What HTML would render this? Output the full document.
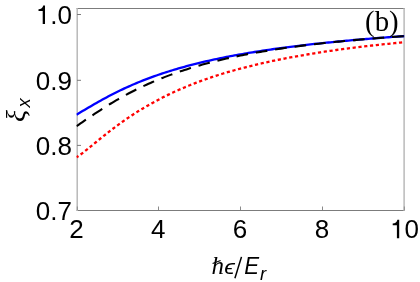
<!DOCTYPE html>
<html><head><meta charset="utf-8"><title>plot</title>
<style>
html,body{margin:0;padding:0;background:#fff;}
body{width:420px;height:282px;overflow:hidden;}
svg{display:block;filter:opacity(0.9999);}
text{font-family:"Liberation Sans",sans-serif;fill:#000;}
.tk{font-size:26px;}
.ser{font-family:"Liberation Serif",serif;}
</style></head><body>
<svg width="420" height="282" viewBox="0 0 420 282">
<rect width="420" height="282" fill="#fff"/>
<defs><path id="one" d="M9.15,-18.6 L7.35,-18.6 C7.0,-16.5 5.2,-14.9 2.65,-14.8 L2.65,-13.0 L6.85,-13.0 L6.85,0 L9.15,0 Z" fill="#000"/></defs>
<!-- frame -->
<g fill="none" stroke-width="1">
<path d="M76.6,8.5H404.8 M76.6,210.5H404.8" stroke="#7c7c7c"/>
<path d="M77.2,8V211" stroke="#b4b4b4" stroke-width="1.4"/>
<path d="M404.1,8V211" stroke="#b4b4b4" stroke-width="1.4"/>
<path d="M77,14.5h4 M77,80.3h4 M77,145.4h4" stroke="#7c7c7c"/>
<path d="M77.3,210v-3.5 M158.5,210v-3.5 M240.5,210v-3.5 M322.5,210v-3.5 M404.3,210v-3.5" stroke="#8a8a8a"/>
</g>
<defs><clipPath id="cp"><rect x="76.4" y="8.5" width="328.2" height="202"/></clipPath></defs>
<g clip-path="url(#cp)" fill="none" stroke-width="2.3">
<path d="M76.50,114.68 L78.50,113.49 L80.50,112.30 L82.50,111.11 L84.50,109.93 L86.50,108.74 L88.50,107.56 L90.50,106.39 L92.50,105.23 L94.49,104.08 L96.49,102.93 L98.49,101.80 L100.49,100.68 L102.49,99.58 L104.49,98.49 L106.49,97.41 L108.49,96.35 L110.49,95.30 L112.49,94.27 L114.49,93.25 L116.49,92.25 L118.49,91.27 L120.49,90.30 L122.49,89.35 L124.49,88.41 L126.48,87.49 L128.48,86.59 L130.48,85.70 L132.48,84.82 L134.48,83.97 L136.48,83.12 L138.48,82.29 L140.48,81.48 L142.48,80.68 L144.48,79.89 L146.48,79.12 L148.48,78.36 L150.48,77.62 L152.48,76.89 L154.48,76.17 L156.48,75.46 L158.47,74.77 L160.47,74.09 L162.47,73.42 L164.47,72.76 L166.47,72.11 L168.47,71.48 L170.47,70.85 L172.47,70.24 L174.47,69.64 L176.47,69.04 L178.47,68.46 L180.47,67.89 L182.47,67.32 L184.47,66.77 L186.47,66.22 L188.47,65.69 L190.47,65.16 L192.46,64.64 L194.46,64.13 L196.46,63.63 L198.46,63.14 L200.46,62.65 L202.46,62.17 L204.46,61.70 L206.46,61.24 L208.46,60.79 L210.46,60.34 L212.46,59.90 L214.46,59.46 L216.46,59.03 L218.46,58.61 L220.46,58.20 L222.46,57.79 L224.45,57.38 L226.45,56.99 L228.45,56.60 L230.45,56.21 L232.45,55.83 L234.45,55.46 L236.45,55.09 L238.45,54.72 L240.45,54.37 L242.45,54.01 L244.45,53.66 L246.45,53.32 L248.45,52.98 L250.45,52.65 L252.45,52.32 L254.45,52.00 L256.45,51.67 L258.44,51.36 L260.44,51.05 L262.44,50.74 L264.44,50.44 L266.44,50.14 L268.44,49.84 L270.44,49.55 L272.44,49.26 L274.44,48.98 L276.44,48.70 L278.44,48.42 L280.44,48.15 L282.44,47.88 L284.44,47.61 L286.44,47.35 L288.44,47.09 L290.43,46.83 L292.43,46.58 L294.43,46.33 L296.43,46.08 L298.43,45.83 L300.43,45.59 L302.43,45.35 L304.43,45.12 L306.43,44.88 L308.43,44.65 L310.43,44.43 L312.43,44.20 L314.43,43.98 L316.43,43.76 L318.43,43.54 L320.43,43.33 L322.42,43.11 L324.42,42.90 L326.42,42.70 L328.42,42.49 L330.42,42.29 L332.42,42.09 L334.42,41.89 L336.42,41.69 L338.42,41.50 L340.42,41.31 L342.42,41.11 L344.42,40.93 L346.42,40.74 L348.42,40.56 L350.42,40.37 L352.42,40.19 L354.42,40.02 L356.41,39.84 L358.41,39.66 L360.41,39.49 L362.41,39.32 L364.41,39.15 L366.41,38.98 L368.41,38.82 L370.41,38.65 L372.41,38.49 L374.41,38.33 L376.41,38.17 L378.41,38.01 L380.41,37.85 L382.41,37.70 L384.41,37.55 L386.41,37.39 L388.40,37.24 L390.40,37.09 L392.40,36.95 L394.40,36.80 L396.40,36.66 L398.40,36.51 L400.40,36.37 L402.40,36.23 L404.40,36.09" stroke="#0000ff"/>
<path d="M76.50,126.17 L78.50,124.80 L80.50,123.43 L82.50,122.07 L84.50,120.70 L86.50,119.34 L88.50,117.98 L90.50,116.63 L92.50,115.29 L94.49,113.95 L96.49,112.63 L98.49,111.32 L100.49,110.03 L102.49,108.74 L104.49,107.48 L106.49,106.22 L108.49,104.99 L110.49,103.77 L112.49,102.56 L114.49,101.38 L116.49,100.21 L118.49,99.05 L120.49,97.92 L122.49,96.80 L124.49,95.70 L126.48,94.61 L128.48,93.55 L130.48,92.50 L132.48,91.47 L134.48,90.45 L136.48,89.45 L138.48,88.47 L140.48,87.51 L142.48,86.56 L144.48,85.63 L146.48,84.71 L148.48,83.81 L150.48,82.92 L152.48,82.05 L154.48,81.20 L156.48,80.36 L158.47,79.53 L160.47,78.72 L162.47,77.92 L164.47,77.14 L166.47,76.37 L168.47,75.61 L170.47,74.87 L172.47,74.14 L174.47,73.42 L176.47,72.72 L178.47,72.03 L180.47,71.35 L182.47,70.68 L184.47,70.02 L186.47,69.38 L188.47,68.74 L190.47,68.12 L192.46,67.51 L194.46,66.90 L196.46,66.31 L198.46,65.73 L200.46,65.16 L202.46,64.60 L204.46,64.05 L206.46,63.51 L208.46,62.97 L210.46,62.45 L212.46,61.93 L214.46,61.43 L216.46,60.93 L218.46,60.44 L220.46,59.96 L222.46,59.49 L224.45,59.02 L226.45,58.57 L228.45,58.12 L230.45,57.68 L232.45,57.24 L234.45,56.81 L236.45,56.39 L238.45,55.98 L240.45,55.57 L242.45,55.17 L244.45,54.78 L246.45,54.39 L248.45,54.01 L250.45,53.64 L252.45,53.27 L254.45,52.90 L256.45,52.55 L258.44,52.19 L260.44,51.85 L262.44,51.51 L264.44,51.17 L266.44,50.84 L268.44,50.52 L270.44,50.19 L272.44,49.88 L274.44,49.57 L276.44,49.26 L278.44,48.96 L280.44,48.66 L282.44,48.37 L284.44,48.08 L286.44,47.80 L288.44,47.52 L290.43,47.24 L292.43,46.97 L294.43,46.70 L296.43,46.43 L298.43,46.17 L300.43,45.91 L302.43,45.66 L304.43,45.41 L306.43,45.16 L308.43,44.92 L310.43,44.68 L312.43,44.44 L314.43,44.21 L316.43,43.98 L318.43,43.75 L320.43,43.52 L322.42,43.30 L324.42,43.08 L326.42,42.86 L328.42,42.65 L330.42,42.44 L332.42,42.23 L334.42,42.02 L336.42,41.82 L338.42,41.62 L340.42,41.42 L342.42,41.22 L344.42,41.03 L346.42,40.84 L348.42,40.65 L350.42,40.46 L352.42,40.28 L354.42,40.09 L356.41,39.91 L358.41,39.73 L360.41,39.56 L362.41,39.38 L364.41,39.21 L366.41,39.04 L368.41,38.87 L370.41,38.70 L372.41,38.54 L374.41,38.37 L376.41,38.21 L378.41,38.05 L380.41,37.89 L382.41,37.73 L384.41,37.58 L386.41,37.42 L388.40,37.27 L390.40,37.12 L392.40,36.97 L394.40,36.82 L396.40,36.68 L398.40,36.53 L400.40,36.39 L402.40,36.25 L404.40,36.11" stroke="#000" stroke-width="2.1" stroke-dasharray="11.7 7.9" stroke-dashoffset="0.3"/>
<path d="M76.50,157.37 L78.50,156.05 L80.50,154.62 L82.50,153.12 L84.50,151.56 L86.50,149.96 L88.50,148.34 L90.50,146.70 L92.50,145.06 L94.49,143.41 L96.49,141.76 L98.49,140.13 L100.49,138.50 L102.49,136.88 L104.49,135.28 L106.49,133.70 L108.49,132.13 L110.49,130.58 L112.49,129.05 L114.49,127.55 L116.49,126.06 L118.49,124.59 L120.49,123.15 L122.49,121.72 L124.49,120.32 L126.48,118.94 L128.48,117.58 L130.48,116.24 L132.48,114.92 L134.48,113.63 L136.48,112.35 L138.48,111.10 L140.48,109.87 L142.48,108.65 L144.48,107.46 L146.48,106.29 L148.48,105.14 L150.48,104.00 L152.48,102.89 L154.48,101.80 L156.48,100.72 L158.47,99.66 L160.47,98.62 L162.47,97.60 L164.47,96.60 L166.47,95.61 L168.47,94.64 L170.47,93.68 L172.47,92.75 L174.47,91.82 L176.47,90.92 L178.47,90.03 L180.47,89.15 L182.47,88.29 L184.47,87.44 L186.47,86.61 L188.47,85.79 L190.47,84.99 L192.46,84.20 L194.46,83.42 L196.46,82.65 L198.46,81.90 L200.46,81.16 L202.46,80.43 L204.46,79.71 L206.46,79.01 L208.46,78.31 L210.46,77.63 L212.46,76.96 L214.46,76.30 L216.46,75.65 L218.46,75.01 L220.46,74.38 L222.46,73.76 L224.45,73.15 L226.45,72.55 L228.45,71.96 L230.45,71.38 L232.45,70.81 L234.45,70.24 L236.45,69.69 L238.45,69.14 L240.45,68.60 L242.45,68.07 L244.45,67.55 L246.45,67.03 L248.45,66.53 L250.45,66.03 L252.45,65.53 L254.45,65.05 L256.45,64.57 L258.44,64.10 L260.44,63.64 L262.44,63.18 L264.44,62.73 L266.44,62.28 L268.44,61.85 L270.44,61.41 L272.44,60.99 L274.44,60.57 L276.44,60.15 L278.44,59.75 L280.44,59.34 L282.44,58.95 L284.44,58.56 L286.44,58.17 L288.44,57.79 L290.43,57.41 L292.43,57.04 L294.43,56.68 L296.43,56.32 L298.43,55.96 L300.43,55.61 L302.43,55.26 L304.43,54.92 L306.43,54.58 L308.43,54.25 L310.43,53.92 L312.43,53.59 L314.43,53.27 L316.43,52.96 L318.43,52.65 L320.43,52.34 L322.42,52.03 L324.42,51.73 L326.42,51.43 L328.42,51.14 L330.42,50.85 L332.42,50.56 L334.42,50.28 L336.42,50.00 L338.42,49.73 L340.42,49.45 L342.42,49.18 L344.42,48.92 L346.42,48.66 L348.42,48.40 L350.42,48.14 L352.42,47.88 L354.42,47.63 L356.41,47.39 L358.41,47.14 L360.41,46.90 L362.41,46.66 L364.41,46.42 L366.41,46.19 L368.41,45.96 L370.41,45.73 L372.41,45.50 L374.41,45.28 L376.41,45.06 L378.41,44.84 L380.41,44.62 L382.41,44.41 L384.41,44.20 L386.41,43.99 L388.40,43.78 L390.40,43.58 L392.40,43.38 L394.40,43.17 L396.40,42.98 L398.40,42.78 L400.40,42.59 L402.40,42.39 L404.40,42.20" stroke="#ff0000" stroke-dasharray="3.2 2.632" stroke-dashoffset="0.83"/>
</g>
<g class="tk" text-anchor="end">
<text x="72" y="24">.0</text><use href="#one" x="35.86" y="24"/>
<text x="72" y="89.6">0.9</text>
<text x="72" y="154.9">0.8</text>
<text x="72" y="220.1">0.7</text>
</g>
<g class="tk" text-anchor="middle">
<text x="76.5" y="238.3">2</text>
<text x="158.3" y="238.3">4</text>
<text x="240" y="238.3">6</text>
<text x="322" y="238.3">8</text>
<text x="404.5" y="238.3" text-anchor="start">0</text><use href="#one" x="390.05" y="238.3"/>
</g>
<text x="365.1" y="31.3" class="ser" font-size="28.8">(b)</text>
<g font-style="italic">
<text x="211.6" y="273.9" class="ser" font-size="25">h</text>
<path d="M212.6,263.6 L220.6,260.5" stroke="#000" stroke-width="1.1" fill="none"/>
<text transform="translate(224.2,273.9) scale(1,0.88)" font-size="24">ϵ</text>
<path d="M241.5,256.9 L234.9,278.2" stroke="#000" stroke-width="1.5" fill="none"/>
<text transform="translate(244.3,273.9) scale(0.9,1)" font-size="24.7">E</text>
<text x="259.9" y="279.8" font-size="18.5">r</text>
</g>
<g transform="rotate(-90)" font-style="italic">
<text x="-121.9" y="25.2" class="ser" font-size="28">ξ</text>
<text x="-107.6" y="30" font-size="18.5">x</text>
</g>
</svg>
</body></html>
